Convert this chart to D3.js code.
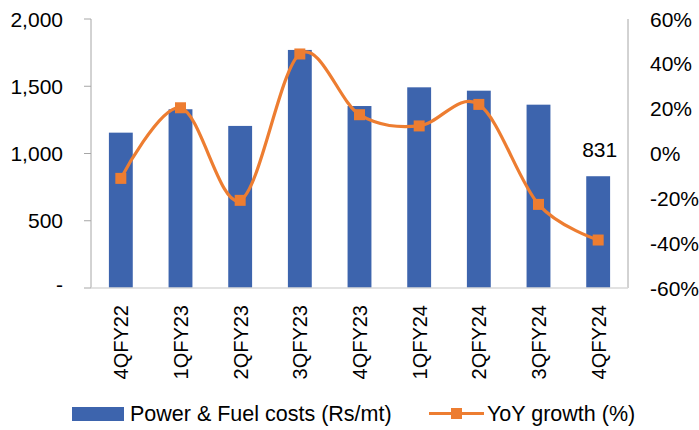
<!DOCTYPE html>
<meta charset="utf-8">
<head>
  <style>
    body { margin: 0; background: #fff; }
    svg text { font-family: "Liberation Sans", Arial, sans-serif; fill: #000; }
    .tick-lbl { font-size: 21px; }
    .cat-lbl { font-size: 20px; }
    .legend-lbl { font-size: 21.5px; }
  </style>
  <script src="https://cdn.jsdelivr.net/npm/d3@7"></script>
</head>
<body>
  <svg width="699" height="430"></svg>
  <script>
    var quarters = ["4QFY22", "1QFY23", "2QFY23", "3QFY23", "4QFY23", "1QFY24", "2QFY24", "3QFY24", "4QFY24"];
    var powerFuel = [1155, 1329, 1205, 1770, 1353, 1492, 1467, 1363, 831];
    var yoyGrowth = [-11.1, 20.4, -20.9, 44.4, 17.3, 12.3, 21.9, -22.7, -38.6];
    var leftTicks = [0, 500, 1000, 1500, 2000];
    var rightTicks = [-60, -40, -20, 0, 20, 40, 60];

    var svg = d3.select("svg");
    var plotL = 91, plotR = 628, plotT = 19, plotB = 288;

    var x = d3.scaleBand().domain(quarters).range([plotL, plotR]).paddingInner(0.6).paddingOuter(0.3);
    var y = d3.scaleLinear().domain([0, 2000]).range([plotB, plotT]);
    var y2 = d3.scaleLinear().domain([-60, 60]).range([plotB, plotT]);

    var barColor = "#3d64ad", lineColor = "#ed7d31";

    // bars
    svg.append("g").selectAll("rect")
      .data(powerFuel)
      .enter().append("rect")
      .attr("x", function(d, i) { return x(quarters[i]); })
      .attr("y", function(d) { return y(d); })
      .attr("width", x.bandwidth())
      .attr("height", function(d) { return plotB - y(d); })
      .attr("fill", barColor);

    // label on last bar
    var last = powerFuel.length - 1;
    svg.append("text")
      .attr("class", "tick-lbl")
      .attr("x", x(quarters[last]) + x.bandwidth() / 2 + 1.5)
      .attr("y", y(powerFuel[last]) - 19)
      .attr("text-anchor", "middle")
      .text(powerFuel[last]);

    // axes lines
    svg.append("line").attr("x1", plotL).attr("x2", plotL).attr("y1", plotT).attr("y2", plotB)
      .attr("stroke", "#a6a6a6").attr("stroke-width", 1);
    svg.append("line").attr("x1", plotR).attr("x2", plotR).attr("y1", plotT).attr("y2", plotB)
      .attr("stroke", "#a6a6a6").attr("stroke-width", 1);
    svg.append("line").attr("x1", plotL).attr("x2", plotR).attr("y1", plotB).attr("y2", plotB)
      .attr("stroke", "#d9d9d9").attr("stroke-width", 1.5);

    // left ticks
    var fmt = d3.format(",");
    leftTicks.forEach(function(t) {
      svg.append("line").attr("x1", plotL - 7).attr("x2", plotL).attr("y1", y(t)).attr("y2", y(t))
        .attr("stroke", "#a6a6a6");
      svg.append("text")
        .attr("class", "tick-lbl")
        .attr("x", 63)
        .attr("y", y(t))
        .attr("dy", t === 0 ? "0.2em" : "0.36em")
        .attr("text-anchor", "end")
        .text(t === 0 ? "-" : fmt(t));
    });

    // right ticks
    rightTicks.forEach(function(t) {
      svg.append("text")
        .attr("class", "tick-lbl")
        .attr("x", 650)
        .attr("y", y2(t))
        .attr("dy", "0.36em")
        .text(t + "%");
    });

    // category labels
    quarters.forEach(function(q) {
      var cx = x(q) + x.bandwidth() / 2;
      svg.append("text")
        .attr("class", "cat-lbl")
        .attr("transform", "translate(" + (cx + 7.5) + ",305) rotate(-90)")
        .attr("text-anchor", "end")
        .text(q);
    });

    // line
    var line = d3.line()
      .x(function(d, i) { return x(quarters[i]) + x.bandwidth() / 2; })
      .y(function(d) { return y2(d); })
      .curve(d3.curveCardinal.tension(0));

    svg.append("path")
      .datum(yoyGrowth)
      .attr("d", line)
      .attr("fill", "none")
      .attr("stroke", lineColor)
      .attr("stroke-width", 3.2);

    svg.append("g").selectAll("rect")
      .data(yoyGrowth)
      .enter().append("rect")
      .attr("x", function(d, i) { return x(quarters[i]) + x.bandwidth() / 2 - 5.5; })
      .attr("y", function(d) { return y2(d) - 5.5; })
      .attr("width", 11)
      .attr("height", 11)
      .attr("fill", lineColor);

    // legend
    var lg = svg.append("g");
    lg.append("rect").attr("x", 72).attr("y", 407).attr("width", 52).attr("height", 14).attr("fill", barColor);
    lg.append("text").attr("class", "legend-lbl").attr("x", 130).attr("y", 421).text("Power & Fuel costs (Rs/mt)");
    lg.append("line").attr("x1", 429).attr("x2", 484).attr("y1", 413.5).attr("y2", 413.5)
      .attr("stroke", lineColor).attr("stroke-width", 3);
    lg.append("rect").attr("x", 451).attr("y", 408).attr("width", 11).attr("height", 11).attr("fill", lineColor);
    lg.append("text").attr("class", "legend-lbl").attr("x", 487).attr("y", 421).text("YoY growth (%)");
  </script>
</body>
